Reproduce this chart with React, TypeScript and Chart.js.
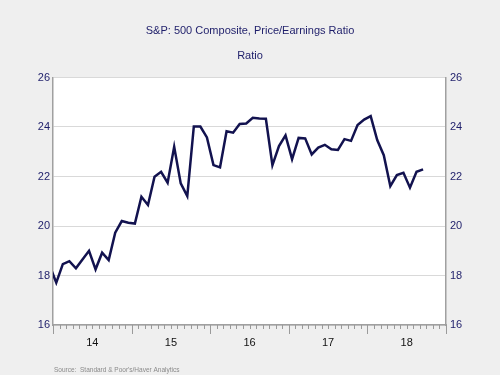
import { useEffect, useRef } from 'react';
import { Chart, registerables } from 'chart.js';

Chart.register(...registerables);

// Monthly S&P 500 P/E ratio (plotted mid-month)
const months: string[] = [
  '2013-12',
  '2014-01', '2014-02', '2014-03', '2014-04', '2014-05', '2014-06', '2014-07', '2014-08', '2014-09', '2014-10', '2014-11', '2014-12',
  '2015-01', '2015-02', '2015-03', '2015-04', '2015-05', '2015-06', '2015-07', '2015-08', '2015-09', '2015-10', '2015-11', '2015-12',
  '2016-01', '2016-02', '2016-03', '2016-04', '2016-05', '2016-06', '2016-07', '2016-08', '2016-09', '2016-10', '2016-11', '2016-12',
  '2017-01', '2017-02', '2017-03', '2017-04', '2017-05', '2017-06', '2017-07', '2017-08', '2017-09', '2017-10', '2017-11', '2017-12',
  '2018-01', '2018-02', '2018-03', '2018-04', '2018-05', '2018-06', '2018-07', '2018-08', '2018-09',
];

const peRatio: number[] = [
  18.4,
  17.71, 18.46, 18.58, 18.29, 18.65, 19.0, 18.25, 18.92, 18.62, 19.73, 20.2, 20.13,
  20.1, 21.18, 20.85, 21.99, 22.19, 21.75, 23.2, 21.72, 21.21, 24.02, 24.02, 23.58,
  22.46, 22.37, 23.83, 23.77, 24.12, 24.14, 24.37, 24.34, 24.33, 22.46, 23.23, 23.66,
  22.7, 23.56, 23.54, 22.89, 23.17, 23.28, 23.1, 23.07, 23.51, 23.44, 24.08, 24.3,
  24.44, 23.47, 22.86, 21.61, 22.06, 22.15, 21.55, 22.19, 22.29,
];

const yearLabels: string[] = ['14', '15', '16', '17', '18'];
const yTicks: number[] = [16, 18, 20, 22, 24, 26];
const firstYear = 2014;

const titleText = 'S&P: 500 Composite, Price/Earnings Ratio';
const subtitleText = 'Ratio';
const sourceText = "Source:  Standard & Poor's/Haver Analytics";

const FONT = "Arial, 'Liberation Sans', sans-serif";
const NAVY = '#1e1e6a';

function monthToX(m: string): number {
  const [y, mo] = m.split('-').map(Number);
  return (y - firstYear) * 12 + (mo - 1) + 0.5;
}

export default function App() {
  const ref = useRef<HTMLCanvasElement>(null);

  useEffect(() => {
    const canvas = ref.current!;
    const points = months.map((m, i) => ({ x: monthToX(m), y: peRatio[i] }));
    const nMonths = yearLabels.length * 12;

    const decorPlugin = {
      id: 'decor',
      beforeDraw(chart: any) {
        const { ctx, chartArea } = chart;
        ctx.save();
        ctx.fillStyle = '#ffffff';
        ctx.fillRect(chartArea.left, chartArea.top, chartArea.right - chartArea.left, chartArea.bottom - chartArea.top);
        ctx.restore();
      },
      afterDraw(chart: any) {
        const { ctx, chartArea } = chart;
        const xs = chart.scales.x;
        ctx.save();
        // month tick marks below the axis
        ctx.strokeStyle = '#9a9a9a';
        ctx.lineWidth = 1;
        for (let m = 0; m <= nMonths; m++) {
          const px = Math.round(xs.getPixelForValue(m)) + 0.5;
          const len = m % 12 === 0 ? 9 : 4;
          ctx.beginPath();
          ctx.moveTo(px, chartArea.bottom);
          ctx.lineTo(px, chartArea.bottom + len);
          ctx.stroke();
        }
        // titles
        ctx.fillStyle = NAVY;
        ctx.textAlign = 'center';
        ctx.textBaseline = 'middle';
        ctx.font = `11px ${FONT}`;
        ctx.fillText(titleText, 250, 31);
        ctx.fillText(subtitleText, 250, 56);
        // source
        ctx.fillStyle = '#8a8a8a';
        ctx.textAlign = 'left';
        ctx.font = `6.5px ${FONT}`;
        ctx.fillText(sourceText, 54, 370);
        ctx.restore();
      },
    };

    const chart = new Chart(canvas, {
      type: 'line',
      data: {
        datasets: [
          {
            data: points,
            borderColor: '#12124f',
            borderWidth: 2.5,
            pointRadius: 0,
            tension: 0,
            fill: false,
            clip: 0 as any,
          },
        ],
      },
      options: {
        responsive: false,
        animation: false,
        devicePixelRatio: 1,
        layout: { padding: { top: 77.5, left: 0, right: 0, bottom: 0 } },
        plugins: {
          legend: { display: false },
          tooltip: { enabled: false },
          title: { display: false },
        },
        scales: {
          x: {
            type: 'linear',
            position: 'bottom',
            min: 0,
            max: nMonths,
            afterBuildTicks: (s: any) => {
              s.ticks = yearLabels.map((_, i) => ({ value: i * 12 + 6 }));
            },
            afterFit: (s: any) => {
              s.height = 50;
            },
            ticks: {
              autoSkip: false,
              maxRotation: 0,
              padding: 11,
              color: '#111111',
              font: { family: FONT, size: 11 },
              callback: (v: any) => yearLabels[Math.round((Number(v) - 6) / 12)] ?? '',
            },
            grid: { display: false, drawTicks: false },
            border: { display: true, color: '#a0a0a0', width: 1.5 },
          },
          y: {
            type: 'linear',
            position: 'left',
            min: yTicks[0],
            max: yTicks[yTicks.length - 1],
            afterBuildTicks: (s: any) => {
              s.ticks = yTicks.map((v) => ({ value: v }));
            },
            afterFit: (s: any) => {
              s.width = 53;
            },
            ticks: {
              padding: 3,
              color: NAVY,
              font: { family: FONT, size: 11 },
            },
            grid: { color: '#d9d9d9', lineWidth: 1, drawTicks: false },
            border: { display: true, color: '#a0a0a0', width: 1.5 },
          },
          y2: {
            type: 'linear',
            position: 'right',
            min: yTicks[0],
            max: yTicks[yTicks.length - 1],
            afterBuildTicks: (s: any) => {
              s.ticks = yTicks.map((v) => ({ value: v }));
            },
            afterFit: (s: any) => {
              s.width = 54;
            },
            ticks: {
              padding: 4,
              color: NAVY,
              font: { family: FONT, size: 11 },
            },
            grid: { drawOnChartArea: false, drawTicks: false },
            border: { display: true, color: '#a0a0a0', width: 1.5 },
          },
        },
      },
      plugins: [decorPlugin],
    });

    return () => chart.destroy();
  }, []);

  return (
    <div style={{ position: 'absolute', left: 0, top: 0, width: 500, height: 375, background: '#efefef' }}>
      <canvas ref={ref} width={500} height={375} style={{ display: 'block', width: 500, height: 375 }} />
    </div>
  );
}
